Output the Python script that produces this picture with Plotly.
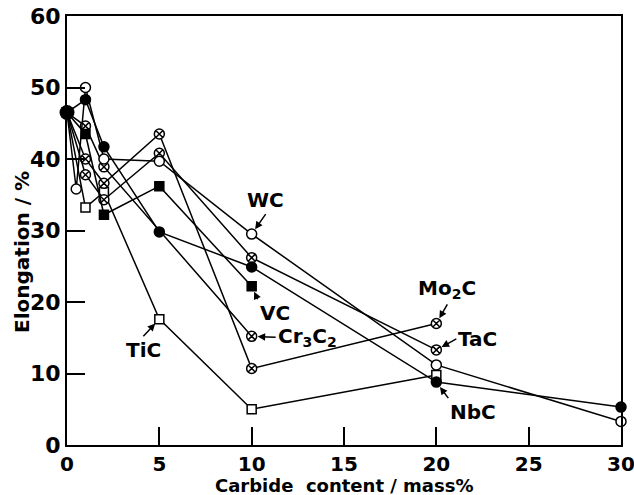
import plotly.graph_objects as go

# ---- data ----
ORIGIN_X = 0
ORIGIN_Y = 46.5

wc_x = [0, 0.5, 1, 2, 5, 10, 20, 30]
wc_y = [46.5, 35.8, 50.0, 40.0, 39.7, 29.5, 11.2, 3.3]

nbc_x = [0, 1, 2, 5, 10, 20, 30]
nbc_y = [46.5, 48.3, 41.7, 29.8, 24.9, 8.8, 5.3]

vc_x = [0, 1, 2, 5, 10]
vc_y = [46.5, 43.5, 32.2, 36.2, 22.2]

tic_x = [0, 1, 2, 5, 10, 20]
tic_y = [46.5, 33.2, 35.4, 17.6, 5.0, 9.8]

cr_x = [0, 1, 2, 10]
cr_y = [46.5, 44.6, 38.9, 15.2]

mo_x = [0, 1, 2, 5, 10, 20]
mo_y = [46.5, 40.0, 36.6, 43.5, 10.7, 17.0]

tac_x = [0, 1, 2, 5, 10, 20]
tac_y = [46.5, 37.8, 34.3, 40.8, 26.2, 13.3]

x_ticks = [0, 5, 10, 15, 20, 25, 30]
y_ticks = [0, 10, 20, 30, 40, 50, 60]

FONT = "DejaVu Sans"

fig = go.Figure()

def add(xs, ys, symbol, fill, size=10):
    fig.add_trace(go.Scatter(
        x=xs, y=ys, mode="lines+markers",
        line=dict(color="black", width=1.5),
        marker=dict(symbol=symbol, size=size, color=fill,
                    line=dict(color="black", width=1.5)),
        cliponaxis=False, showlegend=False))

add(tic_x, tic_y, "square", "white", 9)
add(cr_x, cr_y, "circle-x", "white")
add(mo_x, mo_y, "circle-x", "white")
add(tac_x, tac_y, "circle-x", "white")
add(vc_x, vc_y, "square", "black", 9)
add(nbc_x, nbc_y, "circle", "black")
add(wc_x, wc_y, "circle", "white")

# shared origin point
fig.add_trace(go.Scatter(x=[ORIGIN_X], y=[ORIGIN_Y], mode="markers",
                         marker=dict(symbol="circle", size=15, color="black"),
                         cliponaxis=False, showlegend=False))

def label(text, x, y, ax, ay, xanchor="center", yanchor="middle"):
    fig.add_annotation(x=x, y=y, text=text, showarrow=True, ax=ax, ay=ay,
                       xanchor=xanchor, yanchor=yanchor,
                       arrowhead=2, arrowsize=1, arrowwidth=1.5,
                       arrowcolor="black", standoff=6,
                       font=dict(family=FONT, size=20, color="black"))

label("<b>WC</b>", wc_x[5], wc_y[5], 14, -20, "center", "bottom")
label("<b>VC</b>", vc_x[4], vc_y[4], 6, 13, "left", "top")
label("<b>Cr<sub>3</sub>C<sub>2</sub></b>", cr_x[3], cr_y[3], 24, 1, "left", "middle")
label("<b>Mo<sub>2</sub>C</b>", mo_x[5], mo_y[5], 11, -19, "center", "bottom")
label("<b>TaC</b>", tac_x[5], tac_y[5], 20, -11, "left", "middle")
label("<b>NbC</b>", nbc_x[5], nbc_y[5], 12, 16, "left", "top")
label("<b>TiC</b>", tic_x[3], tic_y[3], -16, 17, "center", "top")

# axis titles
fig.add_annotation(x=0.5, y=0, xref="paper", yref="paper", yshift=-40,
                   text="<b>Carbide  content / mass%</b>", showarrow=False,
                   yanchor="middle", font=dict(family=FONT, size=18, color="black"))
fig.add_annotation(x=0, y=0.45, xref="paper", yref="paper", xshift=-45,
                   text="<b>Elongation / %</b>", showarrow=False, textangle=-90,
                   xanchor="center", yanchor="middle",
                   font=dict(family=FONT, size=20, color="black"))

axis_common = dict(showgrid=False, zeroline=False, showline=True, linecolor="black",
                   linewidth=2, mirror=True, ticks="inside", ticklen=18,
                   tickwidth=1.5, tickcolor="black", ticklabeloverflow="allow",
                   automargin=False)

fig.update_xaxes(range=[0, 30], tickvals=x_ticks,
                 ticktext=[f"<b>{v}</b>" for v in x_ticks],
                 tickfont=dict(family=FONT, size=20, color="black"), **axis_common)
fig.update_yaxes(range=[0, 60], tickvals=y_ticks,
                 ticktext=[f"<b>{v}</b>" for v in y_ticks],
                 tickfont=dict(family=FONT, size=22, color="black"), **axis_common)

fig.update_layout(width=634, height=495, margin=dict(l=67, r=13, t=16, b=50),
                  plot_bgcolor="white", paper_bgcolor="white")

fig.write_html("out.html")
